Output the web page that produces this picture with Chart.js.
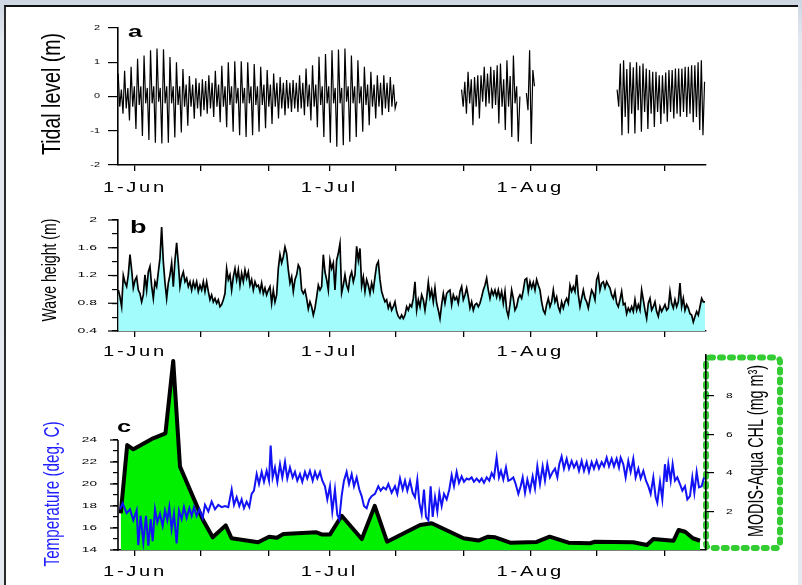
<!DOCTYPE html>
<html>
<head>
<meta charset="utf-8">
<script src="https://cdn.jsdelivr.net/npm/chart.js@4.4.1/dist/chart.umd.min.js"></script>
<style>
  html, body { margin: 0; padding: 0; width: 802px; height: 585px; overflow: hidden;
    background: linear-gradient(#cdd6e2, #e3e8f0 40px, #e6ebf2); }
  #sheet { position: absolute; left: 4px; top: 5px; width: 792px; height: 590px; background: #fff;
    border-top: 2px solid #111; border-left: 2px solid #2a2a2a; }
  canvas { position: absolute; left: 0; }
</style>
</head>
<body>
<div id="sheet"></div>
<canvas id="tideChart" width="802" height="200" style="top:0px"></canvas>
<canvas id="waveChart" width="802" height="160" style="top:200px"></canvas>
<canvas id="tempChart" width="802" height="245" style="top:340px"></canvas>
<script>
// ---------- time axis (days since 1 June) ----------
const monthLabels = ['1-Jun', '1-Jul', '1-Aug'];
const monthDays = [0, 30, 61];
const tickDays = [0, 10.2, 20.7, 30, 40.3, 50.7, 61, 71.3, 81.7];
const X_MIN = -2.62, X_MAX = 88.12;

// ---------- a: tidal level (m), extremes every 6 h ----------
const TIDE_STEP = 0.25;
const tideStartDays = [-2.6, 50.4, 60.4, 74.4];
const tideJunJul = [
  0.67,-0.3,0.2,-0.5, 0.75,-0.35,0.25,-0.7, 0.87,-0.3,0.3,-0.95, 1.1,-0.25,0.3,-1.15,
  1.2,-0.2,0.25,-1.27, 1.35,-0.2,0.3,-1.35, 1.4,-0.15,0.25,-1.37, 1.38,-0.2,0.3,-1.35,
  1.15,-0.2,0.3,-1.2, 1.0,-0.25,0.3,-1.05, 0.8,-0.3,0.35,-0.85, 0.6,-0.3,0.35,-0.65,
  0.53,-0.35,0.4,-0.58, 0.5,-0.4,0.45,-0.5, 0.62,-0.35,0.4,-0.6, 0.75,-0.3,0.35,-0.75,
  0.9,-0.3,0.3,-0.9, 1.0,-0.25,0.3,-1.03, 1.03,-0.2,0.25,-1.13, 1.03,-0.2,0.25,-1.18,
  1.0,-0.2,0.3,-1.13, 0.95,-0.25,0.3,-1.03, 0.87,-0.25,0.35,-0.93, 0.77,-0.3,0.35,-0.8,
  0.67,-0.3,0.4,-0.64, 0.57,-0.35,0.4,-0.55, 0.48,-0.35,0.4,-0.45, 0.48,-0.35,0.4,-0.45,
  0.62,-0.35,0.4,-0.55, 0.82,-0.3,0.35,-0.7, 0.91,-0.3,0.35,-0.9, 1.16,-0.25,0.3,-1.18,
  1.24,-0.2,0.3,-1.35, 1.35,-0.2,0.25,-1.47, 1.37,-0.2,0.25,-1.42, 1.4,-0.15,0.3,-1.32,
  1.2,-0.2,0.3,-1.18, 1.06,-0.2,0.3,-1.03, 0.87,-0.25,0.35,-0.84, 0.72,-0.3,0.35,-0.64,
  0.62,-0.3,0.4,-0.55, 0.62,-0.35,0.4,-0.45, 0.57,-0.3,0.35,-0.35, -0.15
];
const tideLateJul = [
  0.2,-0.3,0.43,-0.5, 0.72,-0.2,0.5,-0.84, 0.57,-0.3,0.62,-0.64, 0.62,-0.15,0.87,-0.3,
  0.67,-0.2,0.87,-0.35, 0.77,-0.25,0.91,-0.79, 0.96,-0.3,0.5,-0.98, 1.06,-0.3,0.6,-1.18,
  1.2,-0.2,0.3,-1.32, 0.0
];
const tideAug1 = [0.1, -0.4, 1.35, -1.39, 0.77, 0.3];
const tideAug = [
  0.2,-0.3,0.96,-1.13, 1.06,-0.6,0.8,-1.08, 1.0,-0.5,0.85,-1.08, 1.0,-0.4,0.9,-1.03,
  0.96,-0.45,0.82,-0.95, 0.77,-0.5,0.72,-0.89, 0.72,-0.45,0.62,-0.8, 0.62,-0.5,0.7,-0.74,
  0.77,-0.45,0.77,-0.64, 0.82,-0.5,0.82,-0.59, 0.82,-0.45,0.87,-0.6, 0.87,-0.5,0.91,-0.75,
  0.91,-0.6,1.0,-0.98, 1.06,-1.13,0.43
];
const tideTicks = [-2, -1, 0, 1, 2];

// ---------- b: significant wave height (m) ----------
const WAVE_START = -2.572, WAVE_STEP = 0.2572;
const waveHeight = [
  0.99,0.89,0.75,1.20,1.10,1.04,1.21,1.50,1.28,1.02, 1.13,1.18,0.99,0.94,0.82,0.92,1.21,0.99,1.25,1.33,
  1.05,0.87,1.11,1.04,1.25,1.45,1.90,1.40,1.10,0.87, 1.09,1.21,1.38,1.04,1.42,1.67,1.38,1.04,1.18,1.25,
  1.11,1.16,1.04,1.11,0.99,1.11,1.02,1.11,0.97,1.06, 0.99,1.11,0.97,1.11,0.97,0.85,0.92,0.82,0.87,0.80,
  0.85,0.75,0.78,0.85,0.94,1.30,1.14,1.21,0.99,1.18, 1.30,1.14,1.28,1.06,1.23,1.11,1.28,1.16,1.25,1.06,
  1.14,0.99,1.11,1.04,1.06,0.97,1.09,0.94,1.02,0.92, 0.99,1.04,0.80,0.99,0.82,0.92,1.30,1.50,1.38,1.47,
  1.61,1.52,1.28,1.09,1.18,0.97,1.14,1.21,1.35,1.30, 0.99,0.94,0.99,0.87,0.72,
  0.82,0.75,0.63,0.73,0.89,1.06,0.99,1.04,1.50,1.25, 1.14,0.99,1.42,1.30,1.38,0.99,1.42,1.52,1.66,0.95,
  1.06,1.21,1.06,0.99,1.18,1.25,1.11,1.21,1.62,1.42, 1.59,1.05,1.18,0.97,1.14,1.06,0.94,1.09,0.99,1.18,
  1.35,1.40,1.14,0.97,0.89,0.82,0.85,0.73,0.80,0.70, 0.75,0.82,0.68,0.61,0.58,0.63,0.58,0.63,0.75,0.70,
  0.78,0.75,0.87,1.11,0.70,0.85,0.75,0.92,0.85,0.70, 0.87,1.10,0.89,0.99,0.82,1.02,0.80,0.70,0.58,0.78,
  0.94,0.80,0.94,0.97,0.99,0.78,0.92,0.85,0.89,0.80, 0.97,1.04,0.85,0.92,1.02,0.89,0.73,0.82,0.70,0.78,
  0.80,0.75,0.80,0.89,0.99,1.06,1.16,0.99,0.87,0.99, 0.92,0.99,0.89,0.99,0.87,0.97,0.80,
  0.97,0.70,0.61,0.78,0.99,0.87,0.70,0.75,0.87,0.92, 0.87,0.99,1.14,1.16,0.97,1.11,1.02,1.10,0.99,1.14,
  1.06,0.99,0.82,0.70,0.65,0.78,0.87,0.75,0.82,0.99, 0.82,0.89,0.75,0.68,0.82,0.73,0.82,0.87,0.80,1.06,
  0.97,1.04,0.97,1.21,0.92,0.75,0.87,0.99,0.87,0.82, 0.73,0.87,0.99,0.94,0.85,1.14,1.21,0.99,1.09,1.11,
  1.02,1.11,1.06,1.02,0.92,0.87,0.97,0.80,0.75,0.85, 0.97,0.78,0.80,0.65,0.73,0.68,0.75,0.68,0.85,0.70,
  0.78,0.70,0.99,0.85,0.70,0.58,0.80,0.87,0.70,0.75, 0.82,0.68,0.61,0.75,0.68,0.73,0.78,0.70,0.73,0.97,
  0.80,0.73,0.85,0.75,0.82,1.09,0.75,0.87,0.70,0.78, 0.73,0.65,0.63,0.53,0.61,0.68,0.63,0.75,0.87,0.82,
  0.82
];
const waveTicks = [0.4, 0.6, 0.8, 1.0, 1.2, 1.4, 1.6, 1.8, 2.0];
const waveLabelled = [0.4, 0.8, 1.2, 1.6, 2.0];

// ---------- c: sea temperature (deg C) [day, value] ----------
const seaTemp = [
  [-2.31,17.7],[-1.90,18.25],[-1.29,17.35],[-0.77,17.7],[-0.26,16.7],[0.26,17.6],[0.51,14.45],[0.87,17.1],
  [1.29,14.7],[1.70,17.1],[2.06,14.4],[2.42,16.8],[2.73,14.8],[3.09,17.7],[3.45,16.5],[3.86,17.3],
  [4.27,16.2],[4.63,17.6],[4.99,16.7],[5.30,17.9],[5.66,15.9],[6.02,17.3],[6.43,14.6],[6.79,17.6],
  [7.20,16.8],[7.56,17.9],[7.97,16.9],[8.39,17.8],[8.75,17.1],[9.11,17.9],[9.52,17.1],[9.93,17.7],
  [10.44,16.9],[10.80,18.1],[11.32,17.5],[11.83,18.4],[12.35,17.7],[12.86,18.1],[13.37,17.9],[13.89,18.0],
  [14.40,17.9],[14.92,19.5],[15.28,18.1],[15.69,18.8],[16.10,18.0],[16.46,18.6],[16.82,17.8],[17.23,18.4],
  [17.64,17.9],[18.00,19.1],[18.36,19.4],[18.78,20.9],[19.14,20.0],[19.55,21.1],[19.91,20.2],[20.32,21.2],
  [20.68,20.3],[20.94,23.5],[21.24,20.6],[21.60,21.5],[21.97,20.2],[22.38,21.8],[22.74,20.6],[23.15,22.0],
  [23.51,20.5],[23.92,21.5],[24.33,20.6],[24.69,21.1],[25.05,20.3],[25.46,20.9],[25.82,20.2],[26.23,21.1],
  [26.59,20.5],[27.00,21.2],[27.42,20.3],[27.78,21.1],[28.14,20.5],[28.55,21.1],[28.91,20.3],[29.32,19.8],
  [29.68,18.6],[30.09,19.8],[30.45,17.5],[30.86,19.5],[31.22,17.2],[31.53,16.8],[31.89,18.9],[32.25,20.3],
  [32.66,21.1],[33.03,20.0],[33.44,20.9],[33.80,19.8],[34.21,20.6],[34.62,19.5],[34.98,18.9],[35.34,18.0],
  [35.75,17.8],[36.16,18.6],[36.52,18.9],[37.04,19.1],[37.55,19.8],[37.91,19.4],[38.32,19.7],[38.74,19.5],
  [39.10,20.0],[39.61,19.2],[40.12,19.8],[40.48,19.1],[40.90,20.5],[41.31,19.5],[41.67,20.3],[42.03,19.4],
  [42.44,20.3],[42.85,19.2],[43.21,18.8],[43.57,20.4],[43.88,18.3],[44.24,17.3],[44.60,19.5],[44.91,17.0],
  [45.27,16.7],[45.63,19.8],[45.94,17.0],[46.30,18.8],[46.66,17.5],[46.97,19.2],[47.33,18.0],[47.69,19.1],
  [48.10,18.6],[48.51,19.5],[48.87,20.8],[49.23,19.8],[49.64,21.1],[50.00,20.1],[50.41,20.7],[50.77,20.2],
  [51.18,20.5],[51.54,20.4],[51.95,20.6],[52.31,20.2],[52.73,20.5],[53.14,20.2],[53.50,20.5],[53.86,20.1],
  [54.27,20.6],[54.68,20.3],[55.04,21.0],[55.40,20.6],[55.81,22.4],[56.17,20.6],[56.48,21.2],[56.84,20.4],
  [57.25,21.5],[57.61,20.3],[57.97,20.4],[58.39,20.6],[58.75,20.0],[59.16,19.1],[59.52,19.8],[59.83,20.6],
  [60.19,19.2],[60.55,20.4],[60.96,19.4],[61.37,20.7],[61.73,19.6],[62.09,21.6],[62.50,20.0],[62.91,21.6],
  [63.27,20.3],[63.63,21.8],[64.04,20.6],[64.46,21.1],[64.82,21.4],[65.18,20.6],[65.48,21.8],[65.84,22.5],
  [66.20,21.4],[66.62,22.3],[66.98,21.4],[67.39,22.1],[67.75,21.5],[68.16,22.0],[68.52,21.2],[68.93,22.1],
  [69.29,21.2],[69.70,22.0],[70.06,21.1],[70.47,22.0],[70.83,21.4],[71.24,22.1],[71.60,21.4],[72.02,22.0],
  [72.38,21.6],[72.79,22.4],[73.15,21.6],[73.56,22.3],[73.92,21.6],[74.33,22.3],[74.69,21.5],[74.95,22.4],
  [75.36,21.8],[75.72,20.6],[76.13,22.1],[76.49,21.1],[76.90,22.3],[77.26,20.6],[77.68,21.4],[78.04,20.5],
  [78.45,21.2],[78.86,20.3],[79.22,19.8],[79.58,19.1],[79.99,20.6],[80.35,18.8],[80.61,18.3],[81.02,20.2],
  [81.38,18.6],[81.79,21.8],[82.05,20.2],[82.31,21.8],[82.67,20.3],[82.97,21.8],[83.33,20.3],[83.69,20.6],
  [84.10,20.0],[84.47,19.4],[84.88,19.8],[85.24,18.6],[85.65,18.9],[86.01,20.6],[86.32,19.2],[86.68,21.1],
  [87.04,19.7],[87.45,19.8],[87.81,20.6]
];
const tempTicks = [14, 15, 16, 17, 18, 19, 20, 21, 22, 23, 24];
const tempLabelled = [14, 16, 18, 20, 22, 24];

// ---------- c: MODIS-Aqua chlorophyll (mg m-3) [day, value] ----------
const chlorophyll = [
  [-2.2,1.9],[-1.2,5.45],[-0.25,5.23],[2.8,5.8],[4.7,6.06],[5.9,9.82],[6.95,4.33],[10.5,1.56],
  [12.0,0.66],[14.0,1.28],[14.9,0.61],[19.0,0.40],[20.7,0.69],[21.9,0.64],[22.9,0.83],[28.0,0.92],
  [28.8,0.81],[30.1,0.81],[31.9,1.78],[35.0,0.57],[37.0,2.29],[38.9,0.43],[44.0,1.30],[45.8,1.39],
  [50.7,0.61],[53.0,0.49],[54.5,0.69],[55.6,0.66],[57.9,0.38],[62.0,0.42],[64.0,0.69],[66.9,0.38],
  [70.2,0.35],[71.0,0.43],[76.9,0.40],[79.0,0.26],[80.0,0.57],[83.1,0.48],[83.9,1.04],[84.9,0.95],
  [86.1,0.61],[87.2,0.48]
];
const chlLabelled = [2, 4, 6, 8];

// ---------- drawing helpers ----------
const FONT = 'Arial, "Liberation Sans", Helvetica, sans-serif';

function drawText(ctx, text, x, y, o) {
  ctx.save();
  ctx.font = (o.bold ? 'bold ' : '') + o.size + 'px ' + FONT;
  if ('letterSpacing' in ctx) ctx.letterSpacing = (o.spacing || 0) + 'px';
  ctx.fillStyle = o.color || '#000';
  ctx.textAlign = o.align || 'left';
  ctx.textBaseline = o.baseline || 'alphabetic';
  ctx.translate(x, y);
  if (o.rotate) ctx.rotate(-Math.PI / 2);
  let sx = o.sx || 1;
  if (o.fit) sx = o.fit[1] / ctx.measureText(o.fit[0]).width;
  if (o.length) sx = o.length / ctx.measureText(text).width;
  ctx.scale(sx, o.sy || 1);
  ctx.fillText(text, 0, 0);
  ctx.restore();
}

function drawMonthLabels(chart, baseline) {
  const xs = chart.scales.x;
  monthDays.forEach((d, i) => drawText(chart.ctx, monthLabels[i], xs.getPixelForValue(d), baseline,
    { size: 15, spacing: 2, fit: ['1-Jun', 64], align: 'center' }));
}

function drawValueLabels(chart, scale, values, x, o) {
  values.forEach(v => drawText(chart.ctx, o.fmt ? o.fmt(v) : String(v), x, scale.getPixelForValue(v),
    Object.assign({ baseline: 'middle' }, o)));
}

function drawMajorTicks(chart, scale, values, x0, x1) {
  const ctx = chart.ctx;
  ctx.save();
  ctx.strokeStyle = '#000';
  ctx.lineWidth = 1.2;
  values.forEach(v => {
    const y = scale.getPixelForValue(v);
    ctx.beginPath(); ctx.moveTo(x0, y); ctx.lineTo(x1, y); ctx.stroke();
  });
  ctx.restore();
}

function timeAxis(height) {
  return {
    type: 'linear', min: X_MIN, max: X_MAX,
    afterBuildTicks: s => { s.ticks = tickDays.map(v => ({ value: v })); },
    afterFit: s => { s.height = height; },
    ticks: { display: false },
    grid: { drawOnChartArea: false, drawTicks: true, tickLength: 6, color: '#000', tickColor: '#000', lineWidth: 1.3 },
    border: { display: true, color: '#000', width: 1.6 }
  };
}

function valueAxis(min, max, ticks, tickLen, width, extra) {
  return Object.assign({
    type: 'linear', min: min, max: max,
    afterBuildTicks: s => { s.ticks = ticks.map(v => ({ value: v })); },
    afterFit: s => { s.width = width; },
    ticks: { display: false },
    grid: { drawOnChartArea: false, drawTicks: true, tickLength: tickLen, color: '#000', tickColor: '#000', lineWidth: 1.2 },
    border: { display: true, color: '#000', width: 1.6 }
  }, extra || {});
}

const common = {
  responsive: false,
  animation: false,
  devicePixelRatio: 1,
  events: [],
  plugins: { legend: { display: false }, tooltip: { enabled: false } },
  elements: { point: { radius: 0 }, line: { tension: 0 } }
};

// ---------- a: tidal level ----------
function tidePoints(start, values) {
  return values.map((v, i) => ({ x: start + i * TIDE_STEP, y: v }));
}
const tideSets = [tideJunJul, tideLateJul, tideAug1, tideAug].map((vals, k) => ({
  data: tidePoints(tideStartDays[k], vals),
  borderColor: '#000', borderWidth: 1.2, fill: false
}));

new Chart(document.getElementById('tideChart'), {
  type: 'line',
  data: { datasets: tideSets },
  options: Object.assign({}, common, {
    layout: { padding: { top: 28, right: 96, left: 0, bottom: 0 } },
    scales: {
      x: timeAxis(35),
      y: valueAxis(-2, 2, tideTicks, 10, 118)
    }
  }),
  plugins: [{
    id: 'tideText',
    afterDraw(chart) {
      const ctx = chart.ctx;
      drawValueLabels(chart, chart.scales.y, tideTicks, 100, { size: 7, sx: 1.55, align: 'right' });
      drawMonthLabels(chart, 192);
      drawText(ctx, 'Tidal level (m)', 53, 94, { size: 20, rotate: true, length: 122, sy: 1.25, align: 'center', baseline: 'middle' });
      drawText(ctx, 'a', 128, 37, { size: 17, bold: true, sx: 1.5 });
    }
  }]
});

// ---------- b: wave height ----------
new Chart(document.getElementById('waveChart'), {
  type: 'line',
  data: {
    datasets: [{
      data: waveHeight.map((v, i) => ({ x: WAVE_START + i * WAVE_STEP, y: v })),
      borderColor: '#000', borderWidth: 1.7,
      backgroundColor: '#a2fcfc', fill: 'start'
    }]
  },
  options: Object.assign({}, common, {
    layout: { padding: { top: 20, right: 96, left: 0, bottom: 0 } },
    scales: {
      x: timeAxis(29),
      y: valueAxis(0.4, 2.0, waveTicks, 6, 118)
    }
  }),
  plugins: [{
    id: 'waveText',
    afterDraw(chart) {
      const ctx = chart.ctx, y = chart.scales.y;
      drawMajorTicks(chart, y, waveLabelled, y.right - 10, y.right);
      drawValueLabels(chart, y, waveLabelled, 97, { size: 7, sx: 2.0, align: 'right',
        fmt: v => (v === 2 ? '2' : v.toFixed(1)) });
      drawMonthLabels(chart, 156);
      drawText(ctx, 'Wave height (m)', 50, 70, { size: 15, rotate: true, length: 103, sy: 1.4, align: 'center', baseline: 'middle' });
      drawText(ctx, 'b', 130, 33, { size: 18, bold: true, sx: 1.5 });
    }
  }]
});

// ---------- c: temperature and chlorophyll ----------
new Chart(document.getElementById('tempChart'), {
  type: 'line',
  data: {
    datasets: [
      {
        data: seaTemp.map(p => ({ x: p[0], y: p[1] })),
        yAxisID: 'temp', borderColor: '#1212f5', borderWidth: 2, fill: false, order: 0
      },
      {
        data: chlorophyll.map(p => ({ x: p[0], y: p[1] })),
        yAxisID: 'chl', borderColor: '#000', borderWidth: 4, borderJoinStyle: 'round',
        backgroundColor: '#00f000', fill: 'start', order: 1
      }
    ]
  },
  options: Object.assign({}, common, {
    layout: { padding: { top: 15, right: 0, left: 0, bottom: 0 } },
    scales: {
      x: timeAxis(35),
      temp: valueAxis(14, 31.73, tempTicks, 5, 118, { position: 'left',
        border: { display: false } }),
      chl: valueAxis(0, 10.13, chlLabelled, 8, 96, { position: 'right' })
    }
  }),
  plugins: [{
    id: 'tempDecor',
    beforeDraw(chart) {
      // dashed frame around the chlorophyll axis
      const ctx = chart.ctx;
      ctx.save();
      ctx.strokeStyle = '#33cc33';
      ctx.lineWidth = 6;
      ctx.lineCap = 'round';
      ctx.setLineDash([3, 7]);
      ctx.beginPath();
      ctx.roundRect(706, 17.5, 74, 190.5, 4);
      ctx.stroke();
      ctx.restore();
    },
    afterDraw(chart) {
      const ctx = chart.ctx, t = chart.scales.temp, c = chart.scales.chl;
      // temperature axis line spans 14-24 only
      ctx.save();
      ctx.strokeStyle = '#000';
      ctx.lineWidth = 1.6;
      ctx.beginPath();
      ctx.moveTo(t.right, t.getPixelForValue(14) + 0.8);
      ctx.lineTo(t.right, t.getPixelForValue(24));
      ctx.stroke();
      ctx.restore();
      drawMajorTicks(chart, t, tempLabelled, t.right - 8, t.right);
      drawValueLabels(chart, t, tempLabelled, 97, { size: 8, sx: 1.7, align: 'right' });
      drawValueLabels(chart, c, chlLabelled, 726, { size: 8, sx: 1.5, align: 'left' });
      drawMonthLabels(chart, 236);
      drawText(ctx, 'Temperature (deg. C)', 53, 154, { size: 15, rotate: true, length: 145, sy: 1.5,
        align: 'center', baseline: 'middle', color: '#1f1fff' });
      drawText(ctx, 'MODIS-Aqua CHL (mg m\u00B3)', 757, 111, { size: 14, rotate: true, length: 172, sy: 1.6,
        align: 'center', baseline: 'middle' });
      drawText(ctx, 'c', 117, 92, { size: 17, bold: true, sx: 1.5 });
    }
  }]
});
</script>
</body>
</html>
